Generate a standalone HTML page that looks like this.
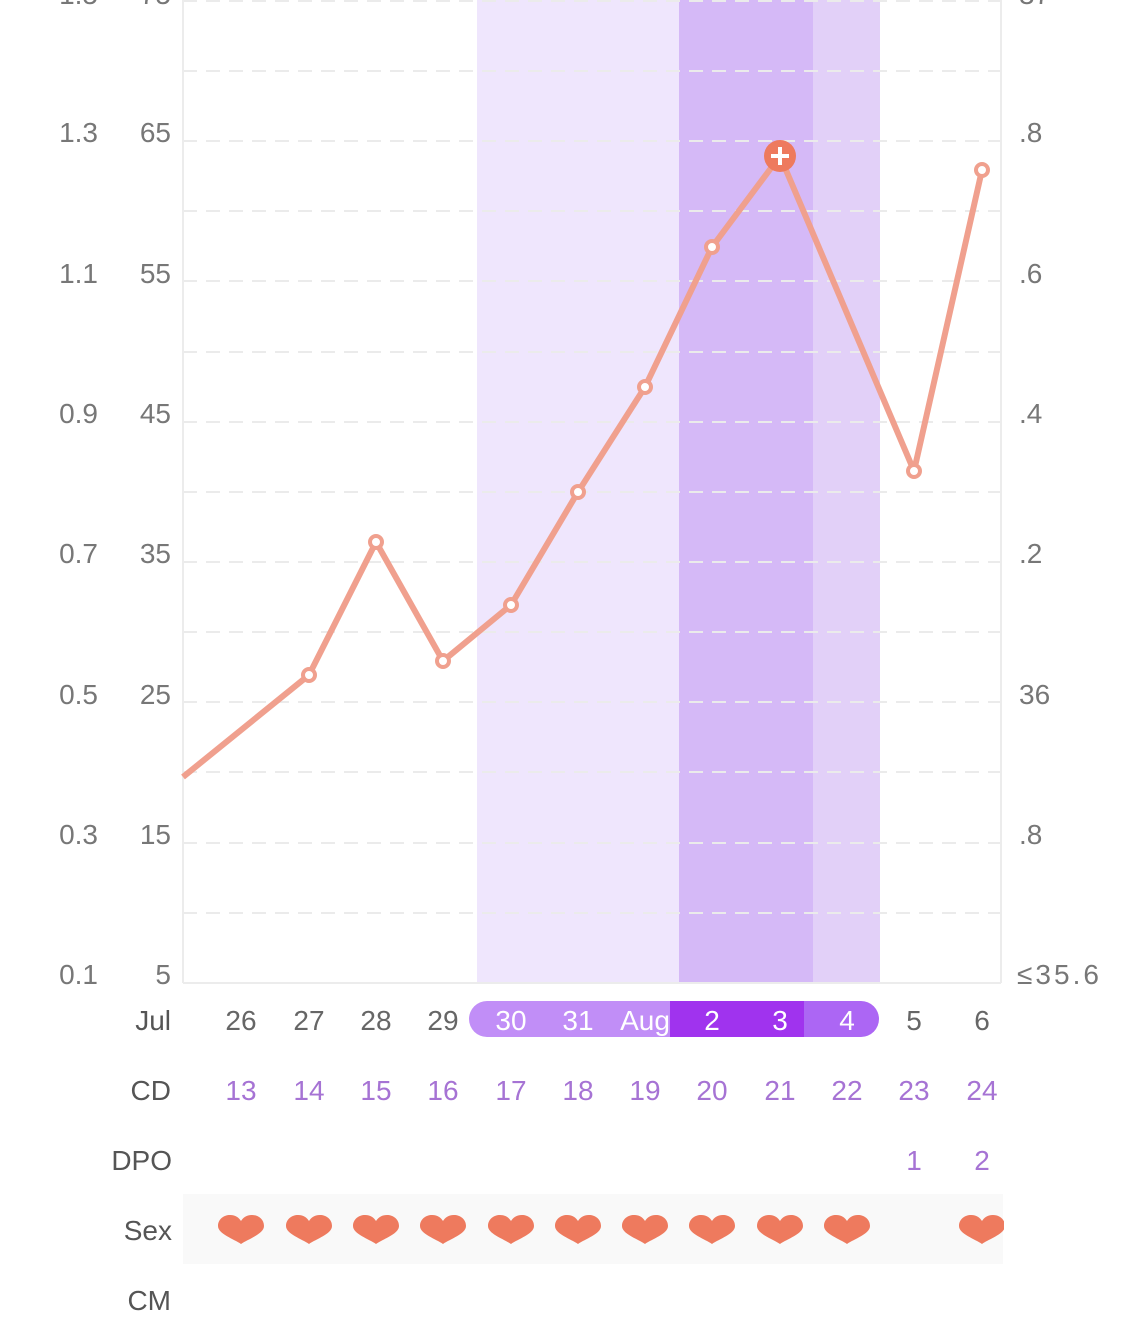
<!DOCTYPE html>
<html><head><meta charset="utf-8"><style>
html,body{margin:0;padding:0;background:#fff;}
svg{display:block;font-family:"Liberation Sans",sans-serif;}
</style></head><body>
<svg width="1125" height="1320" viewBox="0 0 1125 1320" xmlns="http://www.w3.org/2000/svg">
<rect x="477" y="0" width="202" height="983" fill="#efe6fd"/>
<rect x="679" y="0" width="134" height="983" fill="#d5b9f7"/>
<rect x="813" y="0" width="67" height="983" fill="#e2d0f8"/>
<g stroke="#ebebeb" stroke-width="2" stroke-dasharray="14,9">
<line x1="183" y1="1" x2="1001" y2="1"/><line x1="183" y1="71" x2="1001" y2="71"/>
<line x1="183" y1="141" x2="1001" y2="141"/><line x1="183" y1="211" x2="1001" y2="211"/>
<line x1="183" y1="281" x2="1001" y2="281"/><line x1="183" y1="352" x2="1001" y2="352"/>
<line x1="183" y1="422" x2="1001" y2="422"/><line x1="183" y1="492" x2="1001" y2="492"/>
<line x1="183" y1="562" x2="1001" y2="562"/><line x1="183" y1="632" x2="1001" y2="632"/>
<line x1="183" y1="702" x2="1001" y2="702"/><line x1="183" y1="772" x2="1001" y2="772"/>
<line x1="183" y1="843" x2="1001" y2="843"/><line x1="183" y1="913" x2="1001" y2="913"/>
</g>
<line x1="183" y1="0" x2="183" y2="983" stroke="#ececec" stroke-width="2"/>
<line x1="1001" y1="0" x2="1001" y2="983" stroke="#ececec" stroke-width="2"/>
<line x1="183" y1="983" x2="1001" y2="983" stroke="#ececec" stroke-width="2"/>
<g font-size="28" fill="#777">
<g text-anchor="end">
<text x="98" y="4">1.5</text><text x="171" y="4">75</text>
<text x="98" y="142">1.3</text><text x="171" y="142">65</text>
<text x="98" y="283">1.1</text><text x="171" y="283">55</text>
<text x="98" y="423">0.9</text><text x="171" y="423">45</text>
<text x="98" y="563">0.7</text><text x="171" y="563">35</text>
<text x="98" y="704">0.5</text><text x="171" y="704">25</text>
<text x="98" y="844">0.3</text><text x="171" y="844">15</text>
<text x="98" y="984">0.1</text><text x="171" y="984">5</text>
</g>
<text x="1019" y="4">37</text>
<text x="1019" y="142">.8</text>
<text x="1019" y="283">.6</text>
<text x="1019" y="423">.4</text>
<text x="1019" y="563">.2</text>
<text x="1019" y="704">36</text>
<text x="1019" y="844">.8</text>
<text x="1017" y="984" textLength="82">≤35.6</text>
</g>
<polyline points="183,777 309,675 376,542 443,661 511,605 578,492 645,387 712,247 780,156 914,471 982,170" fill="none" stroke="#f0a08e" stroke-width="6" stroke-linejoin="round"/>
<g fill="#fff" stroke="#f0a08e" stroke-width="4">
<circle cx="309" cy="675" r="6"/><circle cx="376" cy="542" r="6"/><circle cx="443" cy="661" r="6"/>
<circle cx="511" cy="605" r="6"/><circle cx="578" cy="492" r="6"/><circle cx="645" cy="387" r="6"/>
<circle cx="712" cy="247" r="6"/><circle cx="914" cy="471" r="6"/><circle cx="982" cy="170" r="6"/>
</g>
<circle cx="780" cy="156" r="16" fill="#ee7a5e"/>
<path d="M780 147v18M771 156h18" stroke="#fff" stroke-width="4"/>
<defs><clipPath id="pc"><rect x="469" y="1001" width="410" height="36" rx="18"/></clipPath></defs>
<g clip-path="url(#pc)">
<rect x="469" y="1001" width="201" height="36" fill="#c18ef7"/>
<rect x="670" y="1001" width="134" height="36" fill="#a033ee"/>
<rect x="804" y="1001" width="75" height="36" fill="#ac66f4"/>
</g>
<g font-size="28" text-anchor="middle">
<g fill="#666">
<text x="241" y="1030">26</text><text x="309" y="1030">27</text><text x="376" y="1030">28</text><text x="443" y="1030">29</text>
<text x="914" y="1030">5</text><text x="982" y="1030">6</text>
</g>
<g fill="#fff">
<text x="511" y="1030">30</text><text x="578" y="1030">31</text><text x="645" y="1030">Aug</text>
<text x="712" y="1030">2</text><text x="780" y="1030">3</text><text x="847" y="1030">4</text>
</g>
<g fill="#a673d4">
<text x="241" y="1100">13</text><text x="309" y="1100">14</text><text x="376" y="1100">15</text><text x="443" y="1100">16</text>
<text x="511" y="1100">17</text><text x="578" y="1100">18</text><text x="645" y="1100">19</text><text x="712" y="1100">20</text>
<text x="780" y="1100">21</text><text x="847" y="1100">22</text><text x="914" y="1100">23</text><text x="982" y="1100">24</text>
<text x="914" y="1170">1</text><text x="982" y="1170">2</text>
</g>
</g>
<g font-size="28" fill="#555" text-anchor="end">
<text x="171" y="1030">Jul</text><text x="171" y="1100">CD</text><text x="172" y="1170">DPO</text>
<text x="172" y="1240">Sex</text><text x="171" y="1310">CM</text>
</g>
<rect x="183" y="1194" width="820" height="70" fill="#f9f9f9"/>
<defs>
<clipPath id="sc"><rect x="183" y="1194" width="821" height="70"/></clipPath>
<path id="h" d="M0 15 C-7 10 -23 5 -23 -3 C-23 -10 -17 -14 -11 -14 C-5 -14 -2 -11 0 -8 C2 -11 5 -14 11 -14 C17 -14 23 -10 23 -3 C23 5 7 10 0 15Z" fill="#ee7a5e"/>
</defs>
<g clip-path="url(#sc)">
<use href="#h" x="241" y="1229"/><use href="#h" x="309" y="1229"/><use href="#h" x="376" y="1229"/>
<use href="#h" x="443" y="1229"/><use href="#h" x="511" y="1229"/><use href="#h" x="578" y="1229"/>
<use href="#h" x="645" y="1229"/><use href="#h" x="712" y="1229"/><use href="#h" x="780" y="1229"/>
<use href="#h" x="847" y="1229"/><use href="#h" x="982" y="1229"/>
</g>
</svg>
</body></html>
